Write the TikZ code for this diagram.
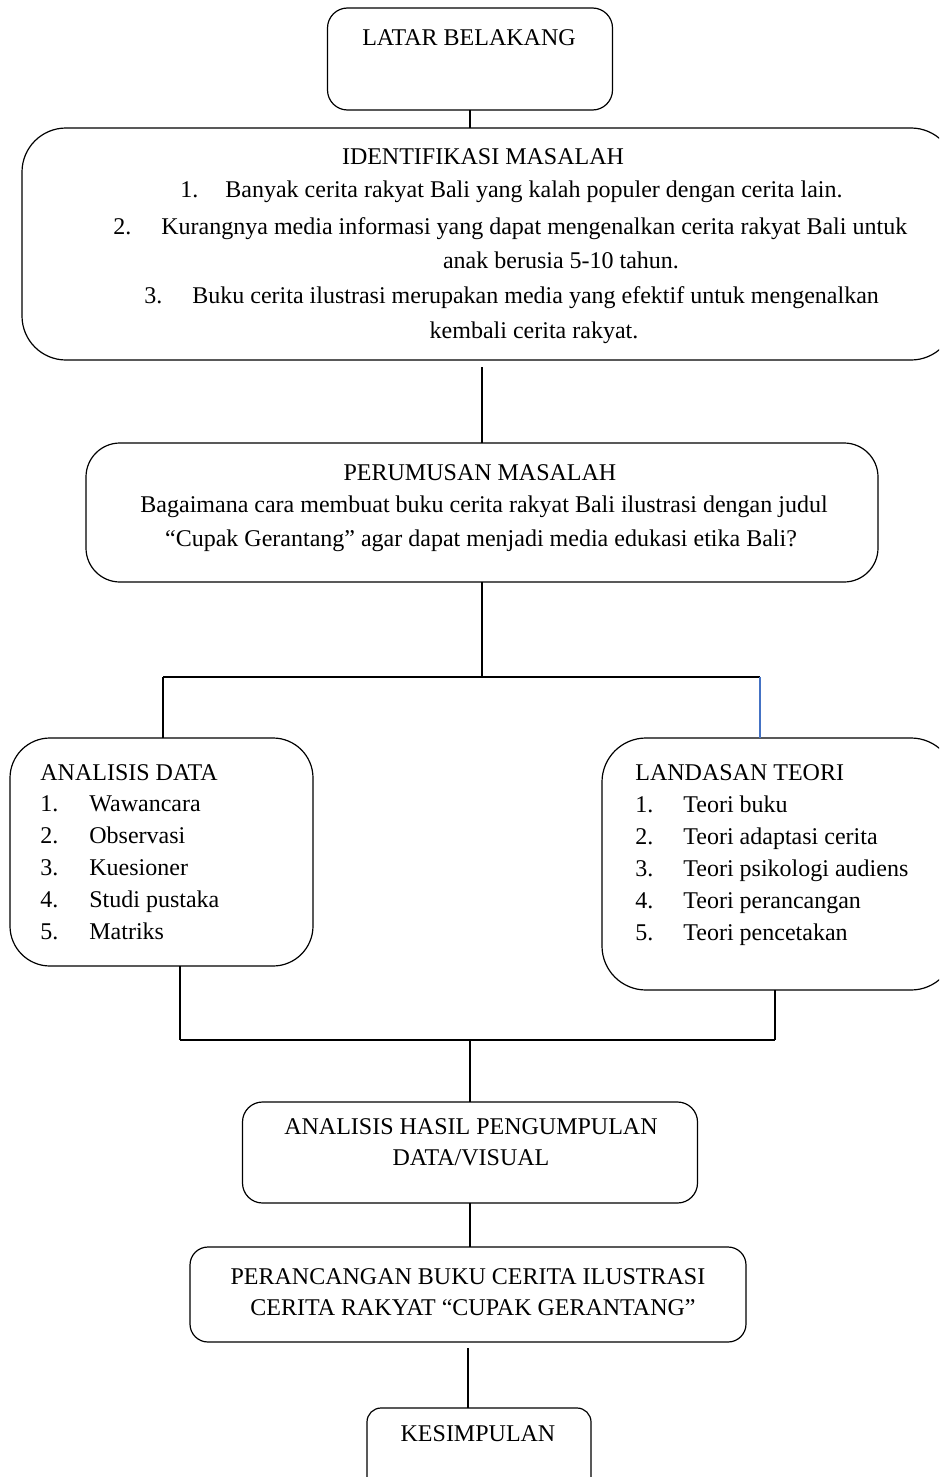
\documentclass[tikz,border=0pt]{standalone}
\usepackage{fontspec}
\setmainfont{Liberation Serif}
\usetikzlibrary{positioning}
\definecolor{linkblue}{HTML}{4472C4}
\newcommand{\numlabel}[2][24.5pt]{\makebox[#1][l]{#2}}

\begin{document}
\begin{tikzpicture}[
    x=0.5pt, y=-0.5pt,
    every node/.style={font=\fontsize{12}{16}\selectfont},
    box/.style={draw, line width=0.6pt, inner sep=0pt, outer sep=0pt},
    txt/.style={inner sep=0pt, anchor=base},
    item/.style={inner sep=0pt, anchor=base west},
    link/.style={line width=1pt}
]
\useasboundingbox (0,0) rectangle (939,1477);
\clip (0,0) rectangle (939,1477);

% boxes
\node[box, rounded corners=10pt, minimum width=142.5pt, minimum height=51pt] (latar) at (470,59) {};
\node[box, rounded corners=22pt, minimum width=466.5pt, minimum height=116pt] (ident) at (488.5,244) {};
\node[box, rounded corners=17pt, minimum width=396pt, minimum height=69.5pt] (perum) at (482,512.5) {};
\node[box, rounded corners=20pt, minimum width=151.5pt, minimum height=114pt] (analisis) at (161.5,852) {};
\node[box, rounded corners=22pt, minimum width=176.5pt, minimum height=126pt] (landasan) at (778.5,864) {};
\node[box, rounded corners=10pt, minimum width=227.5pt, minimum height=50.5pt] (hasil) at (470,1152.5) {};
\node[box, rounded corners=9pt, minimum width=278pt, minimum height=47.5pt] (peranc) at (468,1294.5) {};
\node[box, rounded corners=7pt, minimum width=112pt, minimum height=41pt] (kesimp) at (479,1449) {};

% texts
\node[txt] (latarT) at (469,46) {LATAR BELAKANG};

\node[txt] (identT) at (483,164) {IDENTIFIKASI MASALAH};
\node[item] (ident1) at (180,197) {\numlabel[22.5pt]{1.}Banyak cerita rakyat Bali yang kalah populer dengan cerita lain.};
\node[item] (ident2) at (113,234) {\numlabel[24pt]{2.}Kurangnya media informasi yang dapat mengenalkan cerita rakyat Bali untuk};
\node[txt] (ident2b) at (561,268) {anak berusia 5-10 tahun.};
\node[item] (ident3) at (144,303) {\numlabel[24pt]{3.}Buku cerita ilustrasi merupakan media yang efektif untuk mengenalkan};
\node[txt] (ident3b) at (534,338) {kembali cerita rakyat.};

\node[txt] (perumT) at (480,480) {PERUMUSAN MASALAH};
\node[txt] (perum1) at (484,512) {Bagaimana cara membuat buku cerita rakyat Bali ilustrasi dengan judul};
\node[txt] (perum2) at (481,546) {“Cupak Gerantang” agar dapat menjadi media edukasi etika Bali?};

\node[item] (analisisT) at (40,780) {ANALISIS DATA};
\node[item] (analisis1) at (40,811) {\numlabel{1.}Wawancara};
\node[item] (analisis2) at (40,843) {\numlabel{2.}Observasi};
\node[item] (analisis3) at (40,875) {\numlabel{3.}Kuesioner};
\node[item] (analisis4) at (40,907) {\numlabel{4.}Studi pustaka};
\node[item] (analisis5) at (40,939) {\numlabel{5.}Matriks};

\node[item] (landasanT) at (635,780) {LANDASAN TEORI};
\node[item] (landasan1) at (635,812) {\numlabel[24pt]{1.}Teori buku};
\node[item] (landasan2) at (635,844) {\numlabel[24pt]{2.}Teori adaptasi cerita};
\node[item] (landasan3) at (635,876) {\numlabel[24pt]{3.}Teori psikologi audiens};
\node[item] (landasan4) at (635,908) {\numlabel[24pt]{4.}Teori perancangan};
\node[item] (landasan5) at (635,940) {\numlabel[24pt]{5.}Teori pencetakan};

\node[txt] (hasilT) at (471,1134) {ANALISIS HASIL PENGUMPULAN};
\node[txt] (hasil2) at (471,1165) {DATA/VISUAL};

\node[txt] (perancT) at (468,1284) {PERANCANGAN BUKU CERITA ILUSTRASI};
\node[txt] (peranc2) at (473,1315) {CERITA RAKYAT “CUPAK GERANTANG”};

\node[txt] (kesimpT) at (478,1441) {KESIMPULAN};

% junction points
\coordinate (splitL) at (163,677);
\coordinate (splitR) at (760,677);
\coordinate (joinL) at (180,1040);
\coordinate (joinR) at (775,1040);
\coordinate (joinM) at (470,1040);

% connectors
\draw[link] (latar.south) -- (latar.south |- ident.north);
\draw[link] ([yshift=-3.5pt]ident.south -| perum.north) -- (perum.north);
\draw[link] (perum.south) -- (perum.south |- splitL);
\draw[link] (splitL) -- (splitR);
\draw[link] (splitL) -- (splitL |- analisis.north);
\draw[link, linkblue, line width=0.6pt] (splitR) -- (splitR |- landasan.north);

\draw[link] (analisis.south -| joinL) -- (joinL);
\draw[link] (landasan.south -| joinR) -- (joinR);
\draw[link] (joinL) -- (joinR);
\draw[link] (joinM) -- (joinM |- hasil.north);

\draw[link] (hasil.south) -- (hasil.south |- peranc.north);
\draw[link] ([yshift=-3pt]peranc.south) -- (peranc.south |- kesimp.north);

\end{tikzpicture}
\end{document}
